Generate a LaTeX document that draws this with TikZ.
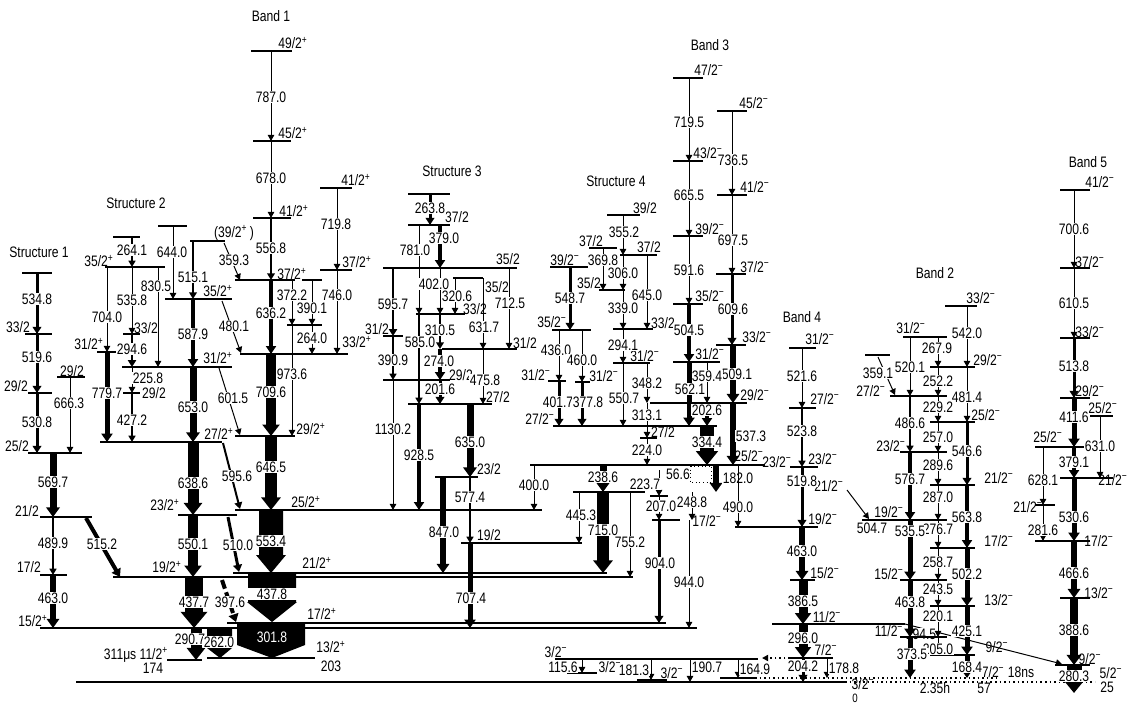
\documentclass[tikz,border=0pt]{standalone}
\usepackage{fontspec}
\setmainfont{Liberation Sans}[FakeStretch=0.8]
\usetikzlibrary{arrows.meta}
\newcommand{\pp}{\textsuperscript{+}}
\newcommand{\mm}{\textsuperscript{−}}
\begin{document}
\begin{tikzpicture}[x=0.66pt, y=-0.66pt, font=\fontsize{10}{11}\selectfont,
    lev/.style={line width=0.85pt},
    g/.style={line width=#1*0.66pt, -{Triangle[width=3.5pt 1.15, length=3.6pt 0.6]}},
    en/.style={fill=white, inner sep=0.4pt},
    sp/.style={inner sep=0pt}]
\useasboundingbox (0,0) rectangle (1131,704);
% ground state
\draw[line width=1.6pt] (76,682) -- (845,682);
\draw[dotted, line width=1pt] (755,678) -- (1000,678);
\draw[dotted, line width=1pt] (845,682) -- (1095,682);

% Structure 1
\node (t1) at (39,252) {Structure 1};
\draw[lev] (22,273) -- (52,273);
\draw[lev] (25,334) -- (52,334);
\draw[lev] (28,393) -- (52,393);
\draw[lev] (57,377) -- (85,377);
\draw[lev] (28,453) -- (82,453);
\draw[lev] (40,517) -- (92,517);
\draw[lev] (40,575) -- (67,575);
\draw[lev] (40,628) -- (697,628);
\node[sp] (a1) at (18,327) {33/2};
\node[sp] (a2) at (16,386) {29/2};
\node[sp] (a3) at (72,371) {29/2};
\node[sp] (a4) at (17,446) {25/2};
\node[sp] (a5) at (27,511) {21/2};
\node[sp] (a6) at (29,567) {17/2};
\node[sp] (a7) at (33,621) {15/2\pp};
\draw[g=3] (37,273) -- (37,334); \node[en] (e5348) at (37,299) {534.8};
\draw[g=3] (37,334) -- (37,393); \node[en] (e5196) at (37,357) {519.6};
\draw[g=3] (37,393) -- (37,453); \node[en] (e5308) at (37,422) {530.8};
\draw[g=1] (70,377) -- (70,453); \node[en] (e6663) at (69,403) {666.3};
\draw[g=7] (53,453) -- (53,517); \node[en] (e5697) at (53,482) {569.7};
\draw[g=1.5] (53,517) -- (53,575); \node[en] (e4899) at (53,543) {489.9};
\draw[g=6] (53,575) -- (53,628); \node[en] (e4630) at (53,598) {463.0};
\draw[g=4] (86,518) -- (120,577); \node[en] (e5152) at (102,544) {515.2};

% Structure 2
\node (t2) at (136,203) {Structure 2};
\draw[lev] (113,237) -- (140,237);
\draw[lev] (158,226) -- (187,226);
\draw[lev] (190,241) -- (225,241);
\draw[lev] (105,267) -- (165,267);
\draw[lev] (165,299) -- (232,299);
\draw[lev] (123,334) -- (140,334);
\draw[lev] (97,352) -- (117,352);
\draw[lev] (122,367) -- (232,367);
\draw[lev] (122,393) -- (140,393);
\draw[lev] (100,442) -- (222,442);
\draw[lev] (178,515) -- (237,515);
\draw[lev] (113,577) -- (633,577);
\draw[line width=1.4pt] (167,660) -- (202,660);
\draw[lev] (207,658) -- (315,658);
\node[sp] (b1) at (99,261) {35/2\pp};
\node[sp] (b2) at (146,328) {33/2};
\node[sp] (b3) at (89,344) {31/2\pp};
\node[sp] (b4) at (234,233) {(39/2\pp\,)};
\node[sp] (b5) at (218,291) {35/2\pp};
\node[sp] (b6) at (218,358) {31/2\pp};
\node[sp] (b7) at (154,393) {29/2};
\node[sp] (b8) at (219,434) {27/2\pp};
\node[sp] (b9) at (165,505) {23/2\pp};
\node[sp] (b10) at (167,567) {19/2\pp};
\node[sp] (b11) at (136,655) {311μs 11/2\pp};
\node[sp] (b12) at (153,668) {174};
\node[sp] (b13) at (331,647) {13/2\pp};
\node[sp] (b14) at (331,666) {203};
\draw[g=1.5] (132,237) -- (132,267); \node[en] (e2641) at (132,250) {264.1};
\draw[g=1] (173,226) -- (173,299); \node[en] (e6440) at (172,252) {644.0};
\draw[g=1] (158,267) -- (158,367); \node[en] (e8305) at (156,286) {830.5};
\draw[g=1] (107,267) -- (107,352); \node[en] (e7040) at (107,317) {704.0};
\draw[g=1] (132,267) -- (132,334); \node[en] (e5358) at (132,300) {535.8};
\draw[g=2] (193,241) -- (193,299); \node[en] (e5151) at (193,277) {515.1};
\draw[g=1] (224,243) -- (240,280); \node[en] (e3593) at (234,260) {359.3};
\draw[g=2.5] (132,334) -- (132,367); \node[en] (e2946) at (132,349) {294.6};
\draw[g=4] (193,299) -- (193,367); \node[en] (e5879) at (193,334) {587.9};
\draw[g=1] (222,301) -- (241,353); \node[en] (e4801) at (234,326) {480.1};
\draw[g=5] (107,352) -- (107,442); \node[en] (e7797) at (107,393) {779.7};
\draw[g=1] (132,367) -- (132,393); \node[en] (e2258) at (148,378) {225.8};
\draw[g=1.5] (132,393) -- (132,442); \node[en] (e4272) at (132,420) {427.2};
\draw[g=7] (193,367) -- (193,442); \node[en] (e6530) at (193,407) {653.0};
\draw[g=1] (219,368) -- (240,435); \node[en] (e6015) at (233,398) {601.5};
\draw[g=11] (193,442) -- (193,515); \node[en] (e6386) at (193,483) {638.6};
\draw[g=2] (223,443) -- (240,509); \node[en] (e5956) at (237,476) {595.6};
\draw[g=10] (193,515) -- (193,577); \node[en] (e5501) at (193,544) {550.1};
\draw[g=3] (228,517) -- (239,572); \node[en] (e5100) at (238,545) {510.0};
\draw[g=18] (194,577) -- (194,628); \node[en] (e4377) at (194,602) {437.7};
\draw[g=4, dash pattern=on 6pt off 2.5pt] (222,580) -- (236,622); \node[en] (e3976) at (230,602) {397.6};
\draw[g=11] (196,628) -- (196,660); \node[en] (e2907) at (190,639) {290.7};
\fill (207,628) -- (232,628) -- (232,648) -- (220,658) -- (207,648) -- cycle;
\node[en, minimum width=19pt] (e2620) at (219,642) {262.0};
\fill (237,623) -- (305,623) -- (305,645) -- (272,658) -- (237,645) -- cycle;
\node[inner sep=0pt, text=white] (e3018) at (272,637) {301.8};

% Band 1
\node (t3) at (271,16) {Band 1};
\draw[lev] (251,51) -- (292,51);
\draw[lev] (253,141) -- (291,141);
\draw[lev] (253,218) -- (291,218);
\draw[lev] (320,188) -- (352,188);
\draw[lev] (320,270) -- (352,270);
\draw[lev] (235,280) -- (295,280);
\draw[lev] (302,280) -- (322,280);
\draw[lev] (287,325) -- (322,325);
\draw[lev] (240,354) -- (348,354);
\draw[lev] (235,436) -- (295,436);
\draw[lev] (235,510) -- (542,510);
\draw[lev] (233,573) -- (607,573);
\draw[lev] (227,623) -- (666,623);
\node[sp] (c1) at (293,43) {49/2\pp};
\node[sp] (c2) at (293,133) {45/2\pp};
\node[sp] (c3) at (294,211) {41/2\pp};
\node[sp] (c4) at (356,180) {41/2\pp};
\node[sp] (c5) at (357,262) {37/2\pp};
\node[sp] (c6) at (292,274) {37/2\pp};
\node[sp] (c7) at (357,342) {33/2\pp};
\node[sp] (c8) at (311,429) {29/2\pp};
\node[sp] (c9) at (306,502) {25/2\pp};
\node[sp] (c10) at (317,563) {21/2\pp};
\node[sp] (c11) at (322,614) {17/2\pp};
\draw[g=1] (271,51) -- (271,141); \node[en] (e7870) at (271,97) {787.0};
\draw[g=1] (271,141) -- (271,218); \node[en] (e6780) at (271,178) {678.0};
\draw[g=1] (337,188) -- (337,270); \node[en] (e7198) at (336,224) {719.8};
\draw[g=2] (271,218) -- (271,280); \node[en] (e5568) at (271,248) {556.8};
\draw[g=1] (337,270) -- (337,354); \node[en] (e7460) at (337,295) {746.0};
\draw[g=1] (292,280) -- (292,325); \node[en] (e3722) at (292,295) {372.2};
\draw[g=1] (312,280) -- (312,325); \node[en] (e3901) at (312,308) {390.1};
\draw[g=4] (271,280) -- (271,354); \node[en] (e6362) at (271,313) {636.2};
\draw[g=1] (312,325) -- (312,354); \node[en] (e2640) at (312,338) {264.0};
\draw[g=1] (292,325) -- (292,436); \node[en] (e9736) at (292,374) {973.6};
\draw[g=10] (271,354) -- (271,436); \node[en] (e7096) at (271,392) {709.6};
\draw[g=12] (271,436) -- (271,510); \node[en] (e6465) at (271,467) {646.5};
\fill (259,510) -- (283,510) -- (283,555) -- (286,555) -- (271,573) -- (256,555) -- (259,555) -- cycle;
\node[en, minimum width=21pt] (e5534) at (271,541) {553.4};
\fill (248,573) -- (296,573) -- (296,602) -- (297,602) -- (272,622) -- (247,602) -- (248,602) -- cycle;
\node[en, minimum width=36pt] (e4378) at (272,594) {437.8};

% Structure 3
\node (t4) at (452,171) {Structure 3};
\draw[lev] (408,194) -- (450,194);
\draw[lev] (408,225) -- (450,225);
\draw[lev] (383,268) -- (517,268);
\draw[lev] (453,278) -- (483,278);
\draw[lev] (416,314) -- (465,314);
\draw[lev] (383,336) -- (403,336);
\draw[lev] (442,349) -- (517,349);
\draw[lev] (383,380) -- (450,380);
\draw[lev] (408,404) -- (492,404);
\draw[lev] (435,477) -- (478,477);
\draw[lev] (461,543) -- (582,543);
\node[sp] (d1) at (457,217) {37/2};
\node[sp] (d2) at (508,259) {35/2};
\node[sp] (d3) at (497,287) {35/2};
\node[sp] (d4) at (475,309) {33/2};
\node[sp] (d5) at (377,329) {31/2};
\node[sp] (d6) at (525,343) {31/2};
\node[sp] (d7) at (461,375) {29/2};
\node[sp] (d8) at (498,397) {27/2};
\node[sp] (d9) at (489,469) {23/2};
\node[sp] (d10) at (489,535) {19/2};
\draw[g=3] (430,194) -- (430,225); \node[en] (e2638) at (430,208) {263.8};
\draw[g=1] (419,225) -- (419,314); \node[en] (e7810) at (415,250) {781.0};
\draw[g=4] (440,225) -- (440,268); \node[en] (e3790) at (444,238) {379.0};
\draw[g=2.5] (393,268) -- (393,336); \node[en] (e5957) at (393,304) {595.7};
\draw[g=1] (440,268) -- (440,314); \node[en] (e4020) at (434,284) {402.0};
\draw[g=1] (455,278) -- (455,314); \node[en] (e3206) at (457,296) {320.6};
\draw[g=1] (483,278) -- (483,349); \node[en] (e6317) at (484,327) {631.7};
\draw[g=1] (509,268) -- (509,349); \node[en] (e7125) at (510,303) {712.5};
\draw[g=2] (440,314) -- (440,349); \node[en] (e3105) at (440,330) {310.5};
\draw[g=1.5] (419,314) -- (419,404); \node[en] (e5850) at (420,342) {585.0};
\draw[g=1.5] (393,336) -- (393,380); \node[en] (e3909) at (393,360) {390.9};
\draw[g=4] (440,349) -- (440,380); \node[en] (e2740) at (439,361) {274.0};
\draw[g=1] (483,349) -- (483,404); \node[en] (e4758) at (485,380) {475.8};
\draw[g=3] (440,380) -- (440,404); \node[en] (e2016) at (440,389) {201.6};
\draw[g=1] (393,380) -- (393,510); \node[en] (e11302) at (393,429) {1130.2};
\draw[g=4] (419,404) -- (419,510); \node[en] (e9285) at (419,455) {928.5};
\draw[g=7] (470,404) -- (470,477); \node[en] (e6350) at (470,442) {635.0};
\draw[g=6] (443,477) -- (443,573); \node[en] (e8470) at (444,532) {847.0};
\draw[g=1.5] (470,477) -- (470,543); \node[en] (e5774) at (470,497) {577.4};
\draw[g=5] (470,543) -- (470,628); \node[en] (e7074) at (471,598) {707.4};
\draw[g=1] (534,465) -- (534,510); \node[en] (e4000) at (534,485) {400.0};

% Structure 4
\node (t5) at (616,181) {Structure 4};
\draw[lev] (607,215) -- (640,215);
\draw[lev] (589,248) -- (617,248);
\draw[lev] (620,255) -- (657,255);
\draw[lev] (599,290) -- (625,290);
\draw[lev] (550,267) -- (588,267);
\draw[lev] (552,330) -- (591,330);
\draw[lev] (613,329) -- (653,329);
\draw[lev] (548,381) -- (566,381);
\draw[lev] (575,382) -- (590,382);
\draw[lev] (613,363) -- (650,363);
\draw[lev] (553,426) -- (717,426);
\draw[lev] (640,438) -- (657,438);
\draw[lev] (530,465) -- (765,465);
\node[sp] (f1) at (645,208) {39/2};
\node[sp] (f2) at (591,241) {37/2};
\node[sp] (f3) at (649,247) {37/2};
\node[sp] (f4) at (589,283) {35/2};
\node[sp] (f5) at (565,260) {39/2\mm};
\node[sp] (f6) at (552,322) {35/2\mm};
\node[sp] (f7) at (663,323) {33/2};
\node[sp] (f8) at (645,356) {31/2\mm};
\node[sp] (f9) at (536,375) {31/2\mm};
\node[sp] (f10) at (604,376) {31/2\mm};
\node[sp] (f11) at (540,419) {27/2\mm};
\node[sp] (f12) at (663,432) {27/2};
\draw[g=1] (623,215) -- (623,255); \node[en] (e3552) at (624,232) {355.2};
\draw[g=1] (603,248) -- (603,290); \node[en] (e3698) at (603,260) {369.8};
\draw[g=1] (623,255) -- (623,290); \node[en] (e3060) at (623,273) {306.0};
\draw[g=1] (647,255) -- (647,329); \node[en] (e6450) at (647,295) {645.0};
\draw[g=1] (623,290) -- (623,329); \node[en] (e3390) at (623,308) {339.0};
\draw[g=3] (570,267) -- (570,330); \node[en] (e5487) at (570,298) {548.7};
\draw[g=1] (623,329) -- (623,363); \node[en] (e2941) at (623,345) {294.1};
\draw[g=1] (559,330) -- (559,381); \node[en] (e4360) at (556,350) {436.0};
\draw[g=1] (582,330) -- (582,382); \node[en] (e4600) at (582,360) {460.0};
\draw[g=1] (647,363) -- (647,403); \node[en] (e3482) at (647,383) {348.2};
\draw[g=1] (623,363) -- (623,426); \node[en] (e5507) at (624,398) {550.7};
\draw[g=3] (559,381) -- (559,426); \node[en] (e4017) at (558,402) {401.7};
\draw[g=3] (582,382) -- (582,426); \node[en] (e3778) at (588,402) {377.8};
\draw[g=1] (647,403) -- (647,438); \node[en] (e3131) at (647,415) {313.1};
\draw[g=1] (647,438) -- (647,465); \node[en] (e2240) at (647,450) {224.0};

% Band 3
\node (t6) at (710,45) {Band 3};
\draw[lev] (673,78) -- (703,78);
\draw[lev] (717,111) -- (747,111);
\draw[lev] (673,161) -- (703,161);
\draw[lev] (717,195) -- (747,195);
\draw[lev] (673,236) -- (703,236);
\draw[lev] (716,274) -- (746,274);
\draw[lev] (673,304) -- (703,304);
\draw[lev] (716,345) -- (746,345);
\draw[lev] (673,362) -- (720,362);
\draw[lev] (650,403) -- (747,403);
\node[sp] (h1) at (709,70) {47/2\mm};
\node[sp] (h2) at (754,103) {45/2\mm};
\node[sp] (h3) at (708,153) {43/2\mm};
\node[sp] (h4) at (755,187) {41/2\mm};
\node[sp] (h5) at (710,229) {39/2\mm};
\node[sp] (h6) at (755,267) {37/2\mm};
\node[sp] (h7) at (710,296) {35/2\mm};
\node[sp] (h8) at (757,337) {33/2\mm};
\node[sp] (h9) at (710,354) {31/2\mm};
\node[sp] (h10) at (755,395) {29/2\mm};
\node[sp] (h11) at (749,456) {25/2\mm};
\draw[g=1] (689,78) -- (689,161); \node[en] (e7195) at (689,122) {719.5};
\draw[g=1] (732,111) -- (732,195); \node[en] (e7365) at (733,160) {736.5};
\draw[g=1] (689,161) -- (689,236); \node[en] (e6655) at (689,195) {665.5};
\draw[g=1] (732,195) -- (732,274); \node[en] (e6975) at (733,240) {697.5};
\draw[g=1] (689,236) -- (689,304); \node[en] (e5916) at (689,270) {591.6};
\draw[g=3] (732,274) -- (732,345); \node[en] (e6096) at (733,309) {609.6};
\draw[g=4] (689,304) -- (689,362); \node[en] (e5045) at (689,330) {504.5};
\draw[g=6] (733,345) -- (733,403); \node[en] (e5091) at (737,374) {509.1};
\draw[g=1] (707,362) -- (707,403); \node[en] (e3594) at (707,376) {359.4};
\draw[g=5] (689,362) -- (689,426); \node[en] (e5621) at (690,389) {562.1};
\draw[g=4] (707,403) -- (707,426); \node[en] (e2026) at (707,410) {202.6};
\draw[g=6] (733,403) -- (733,465); \node[en] (e5373) at (751,436) {537.3};
\draw[g=14] (707,426) -- (707,465); \node[en] (e3344) at (707,442) {334.4};

% lower middle
\draw[lev] (573,492) -- (645,492);
\draw[lev] (650,496) -- (668,496);
\draw[lev] (652,520) -- (680,520);
\draw[lev] (735,527) -- (818,527);
\node[sp] (k1) at (707,521) {17/2\mm};
\draw[g=7] (603,465) -- (603,492); \node[en] (e2386) at (603,477) {238.6};
\draw[g=12] (603,492) -- (603,573); \node[en] (e7150) at (603,530) {715.0};
\draw[g=1] (579,492) -- (579,543); \node[en] (e4453) at (581,515) {445.3};
\draw[g=1] (630,492) -- (630,577); \node[en] (e7552) at (630,542) {755.2};
\draw[g=1] (659,470) -- (659,496); \node[en] (e2237) at (645,484) {223.7};
\draw[g=1] (659,496) -- (659,520); \node[en] (e2070) at (661,506) {207.0};
\draw[g=3] (659,520) -- (659,623); \node[en] (e9040) at (660,563) {904.0};
\draw[g=1] (689,520) -- (689,628); \node[en] (e9440) at (689,582) {944.0};
\draw[g=1] (692,492) -- (692,520); \node[en] (e2488) at (692,502) {248.8};
\draw[g=6] (716,465) -- (716,492); \node[en] (e1820) at (738,478) {182.0};
\draw[g=1] (738,465) -- (738,527); \node[en] (e4900) at (738,507) {490.0};
\node[sp] (k2) at (678,474) {56.6};
\draw[dotted] (690,466) rectangle (711,482);

% Band 4
\node (t7) at (802,317) {Band 4};
\draw[lev] (789,348) -- (816,348);
\draw[lev] (789,408) -- (816,408);
\draw[lev] (790,467) -- (818,467);
\draw[lev] (790,580) -- (815,580);
\draw[lev] (772,624) -- (905,624);
\draw[lev] (790,658) -- (833,658);
\node[sp] (m1) at (820,339) {31/2\mm};
\node[sp] (m2) at (825,399) {27/2\mm};
\node[sp] (m3) at (823,459) {23/2\mm};
\node[sp] (m4) at (777,462) {23/2\mm};
\node[sp] (m5) at (823,519) {19/2\mm};
\node[sp] (m6) at (825,573) {15/2\mm};
\node[sp] (m7) at (827,617) {11/2\mm};
\node[sp] (m8) at (826,650) {7/2\mm};
\node[sp] (m9) at (829,486) {21/2\mm};
\draw[g=1] (802,348) -- (802,408); \node[en] (e5216) at (802,376) {521.6};
\draw[g=1.5] (802,408) -- (802,467); \node[en] (e5238) at (802,431) {523.8};
\draw[g=3] (802,467) -- (802,527); \node[en] (e5198) at (802,481) {519.8};
\draw[g=6] (802,527) -- (802,580); \node[en] (e4630b) at (802,551) {463.0};
\draw[g=9] (803,580) -- (803,624); \node[en] (e3865) at (803,601) {386.5};
\draw[g=9] (803,624) -- (803,658); \node[en] (e2960) at (803,638) {296.0};
\draw[g=3] (803,658) -- (803,682); \node[en] (e2042) at (803,666) {204.2};
\draw[g=1] (827,658) -- (827,678); \node[en] (e1788) at (844,668) {178.8};
\draw[g=1] (847,490) -- (869,519); \node[en] (e5047) at (872,528) {504.7};
\draw[g=1] (905,624) -- (1062,664); \node[en] (e1945) at (921,634) {194.5};

% low-lying states
\draw[lev] (555,659) -- (758,659);
\draw[lev] (567,673) -- (597,673);
\draw[lev] (637,680) -- (667,680);
\draw[lev] (720,678) -- (755,678);
\node[sp] (n1) at (556,652) {3/2\mm};
\node[sp] (n2) at (610,667) {3/2\mm};
\node[sp] (n3) at (672,673) {3/2\mm};
\node[sp] (n4) at (863,684) {3/2\mm};
\node[sp, font=\fontsize{8}{9}\selectfont] (n5) at (855,698) {0};
\node[sp] (n6) at (935,688) {2.35h};
\draw[dotted, line width=1pt, -{Triangle[width=4pt, length=4pt]}] (790,658) -- (762,658);
\draw[g=1] (582,659) -- (582,673); \node[en] (e1156) at (563,667) {115.6};
\draw[g=1] (651,659) -- (651,680); \node[en] (e1813) at (634,670) {181.3};
\draw[g=1] (690,659) -- (690,682); \node[en] (e1907) at (707,667) {190.7};
\draw[g=1] (738,659) -- (738,678); \node[en] (e1649) at (755,669) {164.9};

% Band 2
\node (t8) at (935,273) {Band 2};
\draw[lev] (945,306) -- (977,306);
\draw[lev] (903,337) -- (947,337);
\draw[lev] (930,367) -- (975,367);
\draw[lev] (865,355) -- (890,355);
\draw[lev] (890,396) -- (947,396);
\draw[lev] (930,422) -- (975,422);
\draw[lev] (900,452) -- (947,452);
\draw[lev] (930,485) -- (975,485);
\draw[lev] (862,520) -- (947,520);
\draw[lev] (930,548) -- (975,548);
\draw[lev] (900,580) -- (947,580);
\draw[lev] (930,606) -- (975,606);
\draw[lev] (900,637) -- (947,637);
\draw[lev] (930,655) -- (975,655);
\node[sp] (p1) at (981,298) {33/2\mm};
\node[sp] (p2) at (911,328) {31/2\mm};
\node[sp] (p3) at (988,360) {29/2\mm};
\node[sp] (p4) at (871,391) {27/2\mm};
\node[sp] (p5) at (986,415) {25/2\mm};
\node[sp] (p6) at (891,446) {23/2\mm};
\node[sp] (p7) at (999,478) {21/2\mm};
\node[sp] (p8) at (889,512) {19/2\mm};
\node[sp] (p9) at (999,541) {17/2\mm};
\node[sp] (p10) at (889,574) {15/2\mm};
\node[sp] (p11) at (999,600) {13/2\mm};
\node[sp] (p12) at (889,631) {11/2\mm};
\node[sp] (p13) at (997,647) {9/2\mm};
\node[sp] (p14) at (1008,672) {7/2\mm\ 18ns};
\node[sp] (p15) at (984,688) {57};
\draw[g=1] (967,306) -- (967,367); \node[en] (e5420) at (967,333) {542.0};
\draw[g=1] (938,337) -- (938,367); \node[en] (e2679) at (937,348) {267.9};
\draw[g=1] (910,337) -- (910,396); \node[en] (e5201) at (910,367) {520.1};
\draw[g=1] (878,357) -- (895,395); \node[en] (e3591) at (878,373) {359.1};
\draw[g=1] (938,367) -- (938,396); \node[en] (e2522) at (938,381) {252.2};
\draw[g=1] (967,367) -- (967,422); \node[en] (e4814) at (967,397) {481.4};
\draw[g=1] (938,396) -- (938,422); \node[en] (e2292) at (938,407) {229.2};
\draw[g=1.5] (910,396) -- (910,452); \node[en] (e4866) at (910,423) {486.6};
\draw[g=1] (938,422) -- (938,452); \node[en] (e2570) at (938,437) {257.0};
\draw[g=3] (967,422) -- (967,485); \node[en] (e5466) at (967,451) {546.6};
\draw[g=1] (938,452) -- (938,485); \node[en] (e2896) at (938,465) {289.6};
\draw[g=4] (910,452) -- (910,520); \node[en] (e5767) at (910,479) {576.7};
\draw[g=1] (938,485) -- (938,520); \node[en] (e2870) at (938,497) {287.0};
\draw[g=4] (967,485) -- (967,548); \node[en] (e5638) at (967,517) {563.8};
\draw[g=1] (938,520) -- (938,548); \node[en] (e2767) at (938,529) {276.7};
\draw[g=5] (910,520) -- (910,580); \node[en] (e5355) at (910,531) {535.5};
\draw[g=1] (938,548) -- (938,580); \node[en] (e2587) at (938,562) {258.7};
\draw[g=5] (967,548) -- (967,606); \node[en] (e5022) at (967,574) {502.2};
\draw[g=1] (938,580) -- (938,606); \node[en] (e2435) at (938,589) {243.5};
\draw[g=5] (910,580) -- (910,637); \node[en] (e4638) at (910,602) {463.8};
\draw[g=1] (938,606) -- (938,637); \node[en] (e2201) at (938,616) {220.1};
\draw[g=5] (967,606) -- (967,655); \node[en] (e4251) at (967,631) {425.1};
\draw[g=1] (938,637) -- (938,655); \node[en] (e2050) at (938,649) {205.0};
\draw[g=5] (910,637) -- (910,678); \node[en] (e3735) at (912,654) {373.5};
\draw[g=5] (967,655) -- (967,678); \node[en] (e1684) at (967,667) {168.4};

% Band 5
\node (t9) at (1088,162) {Band 5};
\draw[lev] (1060,190) -- (1090,190);
\draw[lev] (1060,268) -- (1090,268);
\draw[lev] (1060,338) -- (1090,338);
\draw[lev] (1060,398) -- (1090,398);
\draw[lev] (1090,416) -- (1113,416);
\draw[lev] (1035,447) -- (1090,447);
\draw[lev] (1060,478) -- (1113,478);
\draw[lev] (1035,505) -- (1055,505);
\draw[lev] (1035,541) -- (1090,541);
\draw[lev] (1060,598) -- (1090,598);
\draw[lev] (1055,665) -- (1090,665);
\node[sp] (q1) at (1100,182) {41/2\mm};
\node[sp] (q2) at (1090,262) {37/2\mm};
\node[sp] (q3) at (1090,332) {33/2\mm};
\node[sp] (q4) at (1090,391) {29/2\mm};
\node[sp] (q5) at (1103,408) {25/2\mm};
\node[sp] (q6) at (1048,437) {25/2\mm};
\node[sp] (q7) at (1113,480) {21/2\mm};
\node[sp] (q8) at (1028,507) {21/2\mm};
\node[sp] (q9) at (1099,541) {17/2\mm};
\node[sp] (q10) at (1099,593) {13/2\mm};
\node[sp] (q11) at (1090,659) {9/2\mm};
\node[sp] (q12) at (1111,673) {5/2\mm};
\node[sp] (q13) at (1107,687) {25};
\draw[g=1] (1074,190) -- (1074,268); \node[en] (e7006) at (1074,229) {700.6};
\draw[g=1] (1074,268) -- (1074,338); \node[en] (e6105) at (1074,303) {610.5};
\draw[g=3] (1074,338) -- (1074,398); \node[en] (e5138) at (1074,366) {513.8};
\draw[g=5] (1074,398) -- (1074,447); \node[en] (e4116) at (1074,417) {411.6};
\draw[g=1] (1100,416) -- (1100,478); \node[en] (e6310) at (1100,446) {631.0};
\draw[g=1] (1043,447) -- (1043,505); \node[en] (e6281) at (1043,480) {628.1};
\draw[g=4] (1074,447) -- (1074,478); \node[en] (e3791) at (1074,462) {379.1};
\draw[g=1] (1043,505) -- (1043,541); \node[en] (e2816) at (1043,530) {281.6};
\draw[g=5] (1074,478) -- (1074,541); \node[en] (e5306) at (1074,517) {530.6};
\draw[g=6] (1074,541) -- (1074,598); \node[en] (e4666) at (1074,573) {466.6};
\draw[g=8] (1074,598) -- (1074,665); \node[en] (e3886) at (1074,630) {388.6};
\draw[g=15] (1074,665) -- (1074,693); \node[en] (e2803) at (1074,676) {280.3};
\end{tikzpicture}
\end{document}
